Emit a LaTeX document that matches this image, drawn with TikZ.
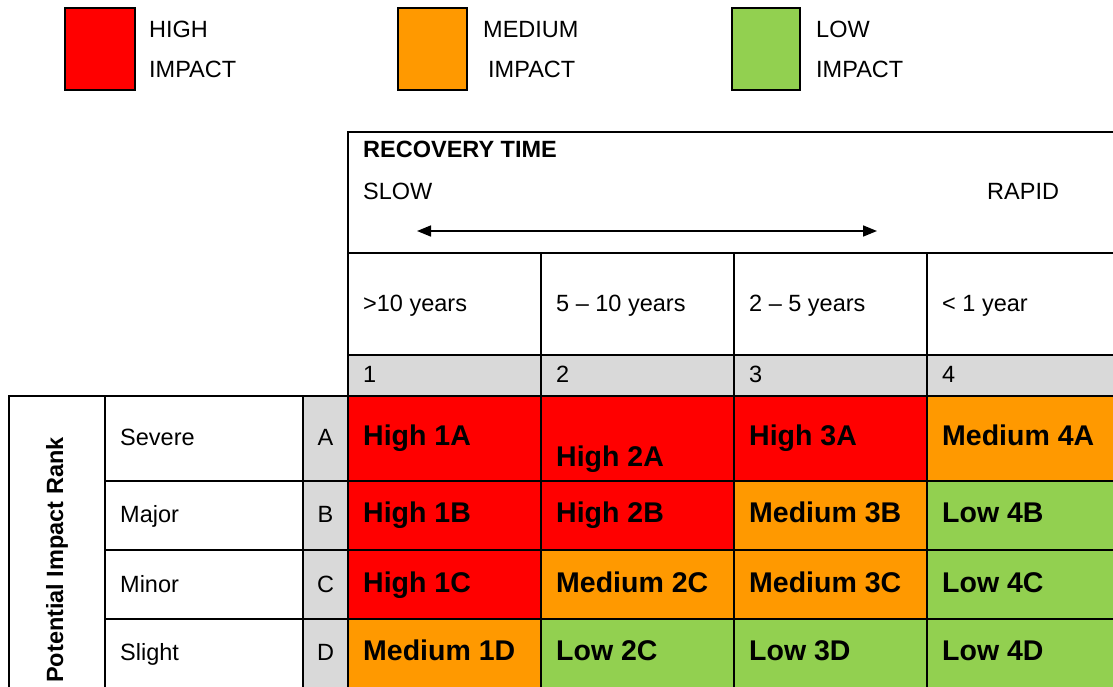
\documentclass[tikz,border=0pt]{standalone}
\usepackage{fontspec}
\setmainfont{Liberation Sans}
\usetikzlibrary{arrows.meta}
\definecolor{hiRed}{HTML}{FF0000}
\definecolor{midOrange}{HTML}{FF9900}
\definecolor{loGreen}{HTML}{92D050}
\definecolor{cellGray}{HTML}{D9D9D9}
\tikzset{
  gridline/.style={draw=black, line width=2pt},
  txt/.style={anchor=base west, inner sep=0pt, font=\fontsize{23.5}{27}\selectfont},
  txtc/.style={anchor=base, inner sep=0pt, font=\fontsize{23.5}{27}\selectfont},
  btxt/.style={anchor=base west, inner sep=0pt, font=\fontsize{23.5}{27}\selectfont\bfseries},
  cellbig/.style={anchor=base west, inner sep=0pt, font=\fontsize{28.5}{33}\selectfont\bfseries},
  keybox/.style={draw=black, line width=2pt},
  twoway/.style={line width=1.6pt, {Triangle[length=14pt,width=11pt]}-{Triangle[length=14pt,width=11pt]}}
}
% one coloured risk cell: x, top, bottom, colour, baseline, label
\newcommand{\riskcell}[6]{%
  \filldraw[gridline, fill=#4] (#1,#2) rectangle (#1+193,#3);
  \node[cellbig] (r#1-#2) at (#1+15,#5) {#6};
}
\begin{document}
\begin{tikzpicture}[x=1pt,y=-1pt]
\useasboundingbox (0,0) rectangle (1113,686);
\clip (0,0) rectangle (1113,686);

% legend
\filldraw[keybox, fill=hiRed] (65,8) rectangle (135,90);
\node[txt] (kh1) at (149,37) {HIGH};
\node[txt] (kh2) at (149,77) {IMPACT};
\filldraw[keybox, fill=midOrange] (398,8) rectangle (467,90);
\node[txt] (km1) at (483,37) {MEDIUM};
\node[txt] (km2) at (488,77) {IMPACT};
\filldraw[keybox, fill=loGreen] (732,8) rectangle (800,90);
\node[txt] (kl1) at (816,37) {LOW};
\node[txt] (kl2) at (816,77) {IMPACT};

% recovery time header
\draw[gridline] (348,132) rectangle (1130,253);
\node[btxt] (rt) at (363,157) {RECOVERY TIME};
\node[txt] (slow) at (363,199) {SLOW};
\node[txt] (rapid) at (987,199) {RAPID};
\coordinate (arrL) at (417,231);
\coordinate (arrR) at (877,231);
\draw[twoway] (arrL) -- (arrR);

% period row and number row
\foreach \x/\lab/\n [count=\i] in {348/{>10 years}/1, 541/{5 -- 10 years}/2, 734/{2 -- 5 years}/3, 927/{< 1 year}/4}{
  \draw[gridline] (\x,253) rectangle ++(193,102);
  \filldraw[gridline, fill=cellGray] (\x,355) rectangle ++(193,41);
  \node[txt] (per\i) at (\x+15,311) {\lab};
  \node[txt] (num\i) at (\x+15,382) {\n};
}

% impact rank side
\draw[gridline] (9,396) rectangle (105,700);
\node[btxt, rotate=90] (rank) at (63,683) {Potential Impact Rank};
\foreach \top/\bot/\base/\rowname/\rowlt in {396/481/445/Severe/A, 481/550/522/Major/B, 550/619/592/Minor/C, 619/700/660/Slight/D}{
  \draw[gridline] (105,\top) rectangle (303,\bot);
  \filldraw[gridline, fill=cellGray] (303,\top) rectangle (348,\bot);
  \node[txt] (sev\rowlt) at (120,\base) {\rowname};
  \node[txtc] (lt\rowlt) at (325.5,\base) {\rowlt};
}

% risk cells
\riskcell{348}{396}{481}{hiRed}{445}{High 1A}
\riskcell{541}{396}{481}{hiRed}{466}{High 2A}
\riskcell{734}{396}{481}{hiRed}{445}{High 3A}
\riskcell{927}{396}{481}{midOrange}{445}{Medium 4A}

\riskcell{348}{481}{550}{hiRed}{522}{High 1B}
\riskcell{541}{481}{550}{hiRed}{522}{High 2B}
\riskcell{734}{481}{550}{midOrange}{522}{Medium 3B}
\riskcell{927}{481}{550}{loGreen}{522}{Low 4B}

\riskcell{348}{550}{619}{hiRed}{592}{High 1C}
\riskcell{541}{550}{619}{midOrange}{592}{Medium 2C}
\riskcell{734}{550}{619}{midOrange}{592}{Medium 3C}
\riskcell{927}{550}{619}{loGreen}{592}{Low 4C}

\riskcell{348}{619}{700}{midOrange}{660}{Medium 1D}
\riskcell{541}{619}{700}{loGreen}{660}{Low 2C}
\riskcell{734}{619}{700}{loGreen}{660}{Low 3D}
\riskcell{927}{619}{700}{loGreen}{660}{Low 4D}
\end{tikzpicture}
\end{document}
